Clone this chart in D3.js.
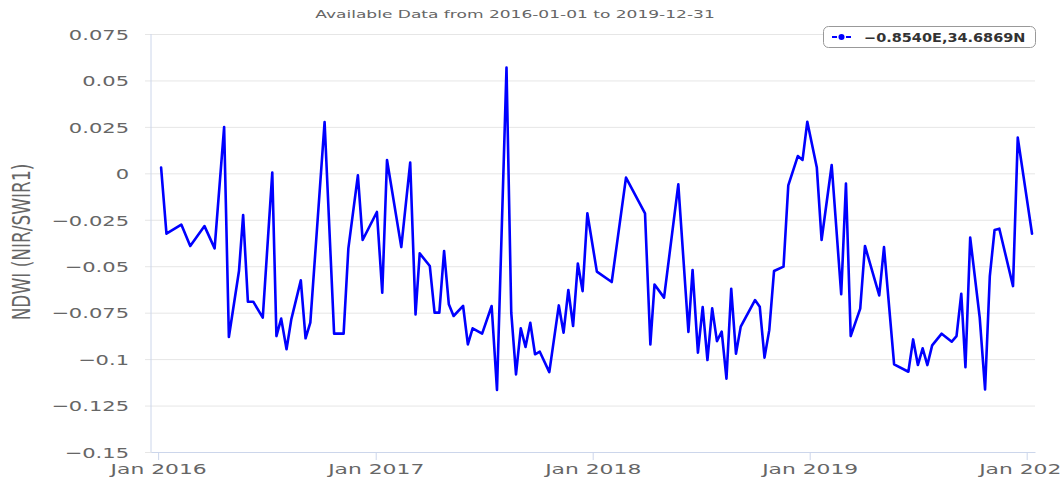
<!DOCTYPE html>
<html>
<head>
<meta charset="utf-8">
<script src="https://cdn.jsdelivr.net/npm/d3@7"></script>
<style>
  html, body { margin: 0; padding: 0; background: #fff; overflow: hidden; }
  svg { display: block; font-family: "DejaVu Sans", Verdana, sans-serif; }
</style>
</head>
<body>
<svg id="chart" width="1060" height="482"></svg>
<script>
const titleText = "Available Data from 2016-01-01 to 2019-12-31";
const yAxisTitle = "NDWI (NIR/SWIR1)";
const seriesName = "\u22120.8540E,34.6869N";

const dates = [
  "2016-01-06","2016-01-15","2016-02-09","2016-02-24","2016-03-19","2016-04-05","2016-04-21","2016-04-29",
  "2016-05-16","2016-05-23","2016-05-31","2016-06-09","2016-06-25","2016-07-11","2016-07-18","2016-07-26",
  "2016-08-04","2016-08-12","2016-08-28","2016-09-05","2016-09-13","2016-10-07","2016-10-23","2016-11-08",
  "2016-11-16","2016-12-02","2016-12-10","2017-01-03","2017-01-12","2017-01-20","2017-02-13","2017-02-28",
  "2017-03-09","2017-03-16","2017-04-02","2017-04-10","2017-04-18","2017-04-26","2017-05-04","2017-05-12",
  "2017-05-28","2017-06-05","2017-06-13","2017-06-29","2017-07-15","2017-07-24","2017-08-09","2017-08-17",
  "2017-08-25","2017-09-02","2017-09-10","2017-09-18","2017-09-26","2017-10-04","2017-10-20","2017-11-05",
  "2017-11-13","2017-11-21","2017-11-29","2017-12-07","2017-12-15","2017-12-23","2018-01-08","2018-02-02",
  "2018-02-26","2018-03-30","2018-04-08","2018-04-15","2018-05-01","2018-05-25","2018-06-11","2018-06-18",
  "2018-06-27","2018-07-05","2018-07-13","2018-07-21","2018-07-29","2018-08-06","2018-08-14","2018-08-22",
  "2018-08-30","2018-09-07","2018-10-01","2018-10-09","2018-10-17","2018-10-25","2018-11-02","2018-11-18",
  "2018-11-26","2018-12-12","2018-12-20","2018-12-28","2019-01-13","2019-01-21","2019-02-07","2019-02-23",
  "2019-03-03","2019-03-11","2019-03-27","2019-04-04","2019-04-28","2019-05-06","2019-05-23","2019-06-16",
  "2019-06-24","2019-07-02","2019-07-10","2019-07-18","2019-07-26","2019-08-11","2019-08-28","2019-09-05",
  "2019-09-13","2019-09-20","2019-09-28","2019-10-14","2019-10-23","2019-10-31","2019-11-08","2019-11-16",
  "2019-12-09","2019-12-17","2020-01-10"
];

const ndwi = [
  0.0031,-0.0325,-0.0276,-0.0391,-0.0284,-0.0404,0.0249,-0.0881,
  -0.0526,-0.0224,-0.0691,-0.0691,-0.0777,0.0004,-0.0876,-0.0782,
  -0.0947,-0.0786,-0.0576,-0.0888,-0.0804,0.0276,-0.0863,-0.0863,
  -0.0404,-0.0011,-0.0359,-0.0208,-0.0642,0.0072,-0.0397,0.0058,
  -0.0759,-0.0431,-0.0499,-0.0750,-0.0750,-0.0418,-0.0705,-0.0768,
  -0.0714,-0.0921,-0.0834,-0.0863,-0.0714,-0.1166,0.0569,-0.0750,
  -0.1082,-0.0834,-0.0935,-0.0804,-0.0974,-0.0960,-0.1070,-0.0711,
  -0.0858,-0.0628,-0.0822,-0.0485,-0.0634,-0.0215,-0.0529,-0.0585,
  -0.0023,-0.0215,-0.0921,-0.0598,-0.0669,-0.0059,-0.0854,-0.0520,
  -0.0965,-0.0720,-0.1005,-0.0727,-0.0903,-0.0852,-0.1105,-0.0621,
  -0.0971,-0.0825,-0.0682,-0.0718,-0.0992,-0.0844,-0.0526,-0.0502,
  -0.0065,0.0093,0.0072,0.0278,0.0031,-0.0359,0.0045,-0.0651,
  -0.0055,-0.0876,-0.0728,-0.0391,-0.0657,-0.0397,-0.1028,-0.1068,
  -0.0894,-0.1032,-0.0942,-0.1032,-0.0926,-0.0863,-0.0906,-0.0876,
  -0.0648,-0.1043,-0.0346,-0.0777,-0.1163,-0.0553,-0.0305,-0.0298,
  -0.0607,0.0192,-0.0325
];

const yTickValues = [-0.15,-0.125,-0.1,-0.075,-0.05,-0.025,0,0.025,0.05,0.075];
const yTickLabels = ["\u22120.15","\u22120.125","\u22120.1","\u22120.075","\u22120.05","\u22120.025","0","0.025","0.05","0.075"];
const xTickDates = ["2016-01-01","2017-01-01","2018-01-01","2019-01-01","2020-01-01"];
const xTickLabels = ["Jan 2016","Jan 2017","Jan 2018","Jan 2019","Jan 2020"];

const parse = d3.utcParse("%Y-%m-%d");
const data = dates.map((d, i) => ({ date: parse(d), value: ndwi[i] }));

const svg = d3.select("#chart");
const mLeft = 151, mRight = 1035, mTop = 34, mBottom = 452;
const plotW = mRight - mLeft;

const x = d3.scaleUtc()
  .domain([parse("2015-12-20"), parse("2020-01-15")])
  .range([mLeft, mRight]);
const y = d3.scaleLinear().domain([-0.15, 0.075]).range([mBottom, mTop]);

const axisColor = "#ccd6eb";
const gridColor = "#e6e6e6";
const labelColor = "#666666";

// Y axis with gridlines
const yAxis = d3.axisLeft(y)
  .tickValues(yTickValues)
  .tickFormat((d, i) => yTickLabels[i])
  .tickSizeOuter(0);
const gy = svg.append("g").attr("transform", `translate(${mLeft},0)`).call(yAxis);
gy.select(".domain").remove();
gy.selectAll(".tick line")
  .attr("x1", -6).attr("x2", plotW)
  .attr("stroke", gridColor).attr("stroke-width", 1);
const ySx = 1.45;
gy.selectAll(".tick text")
  .attr("x", -22 / ySx).attr("dy", "0.36em")
  .attr("transform", `scale(${ySx},1)`)
  .attr("fill", labelColor)
  .attr("font-size", 14.5)
  .attr("font-family", "DejaVu Sans, sans-serif")
  .attr("text-anchor", "end");

// left axis line
svg.append("line")
  .attr("x1", mLeft).attr("x2", mLeft).attr("y1", mTop).attr("y2", mBottom)
  .attr("stroke", axisColor).attr("stroke-width", 1);

// X axis
const xAxis = d3.axisBottom(x)
  .tickValues(xTickDates.map(parse))
  .tickFormat((d, i) => xTickLabels[i])
  .tickSize(8)
  .tickSizeOuter(0);
const gx = svg.append("g").attr("transform", `translate(0,${mBottom})`).call(xAxis);
gx.select(".domain").attr("stroke", axisColor);
gx.selectAll(".tick line").attr("stroke", axisColor);
const xSx = 1.56;
gx.selectAll(".tick text")
  .attr("y", 22).attr("dy", 0)
  .attr("transform", `scale(${xSx},1)`)
  .attr("fill", labelColor)
  .attr("font-size", 14)
  .attr("font-family", "DejaVu Sans, sans-serif");

// Line
const line = d3.line().x(d => x(d.date)).y(d => y(d.value));
svg.append("path")
  .datum(data)
  .attr("d", line)
  .attr("fill", "none")
  .attr("stroke", "#0000ff")
  .attr("stroke-width", 2.6)
  .attr("stroke-linejoin", "round")
  .attr("stroke-linecap", "round");

// Title
svg.append("text")
  .attr("transform", `translate(515,18) scale(1.55,1)`)
  .attr("text-anchor", "middle")
  .attr("font-size", 11)
  .attr("fill", labelColor)
  .text(titleText);

// Y axis title
svg.append("text")
  .attr("transform", `translate(30,242) scale(1.45,1) rotate(-90)`)
  .attr("text-anchor", "middle")
  .attr("font-size", 17)
  .attr("fill", labelColor)
  .text(yAxisTitle);

// Legend
const lg = svg.append("g");
lg.append("rect")
  .attr("x", 823.5).attr("y", 26.5).attr("width", 212).attr("height", 21)
  .attr("rx", 5).attr("ry", 5)
  .attr("fill", "#fff").attr("stroke", "#999").attr("stroke-width", 1);
lg.append("line")
  .attr("x1", 832).attr("x2", 851).attr("y1", 37).attr("y2", 37)
  .attr("stroke", "#0000ff").attr("stroke-width", 2);
lg.append("circle")
  .attr("cx", 841.5).attr("cy", 37).attr("r", 3.8)
  .attr("fill", "#0000ff").attr("stroke", "#fff").attr("stroke-width", 1.5);
lg.append("text")
  .attr("transform", `translate(864,42) scale(1.16,1)`)
  .attr("font-size", 12.5)
  .attr("font-weight", "bold")
  .attr("fill", "#333")
  .text(seriesName);
</script>
</body>
</html>
